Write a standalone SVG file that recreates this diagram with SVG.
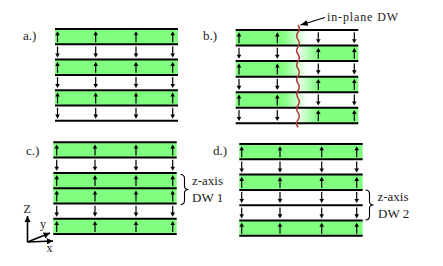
<svg xmlns="http://www.w3.org/2000/svg" xmlns:xlink="http://www.w3.org/1999/xlink" width="443" height="266" viewBox="0 0 443 266">
<style>
.g{fill:#80ff80}
.ln{stroke:#000;stroke-width:2}
.t{font-family:"Liberation Serif","Times New Roman",serif;font-size:13px;fill:#222}
.ts{font-family:"Liberation Serif","Times New Roman",serif;font-size:12px;fill:#222}
.ax{stroke:#000;stroke-width:1.6;fill:none}
</style>
<defs>
<g id="up"><line x1="0" y1="5.5" x2="0" y2="-2.5" stroke="#000" stroke-width="1.2"/><path d="M0,-5.5 L2.3,-1.4 L-2.3,-1.4 Z" fill="#000"/></g>
<g id="dn"><line x1="0" y1="-5.5" x2="0" y2="2.5" stroke="#000" stroke-width="1.2"/><path d="M0,5.5 L2.3,1.4 L-2.3,1.4 Z" fill="#000"/></g>
<linearGradient id="gl" gradientUnits="userSpaceOnUse" x1="283" y1="0" x2="307" y2="0"><stop offset="0" stop-color="#80ff80"/><stop offset="1" stop-color="#ffffff"/></linearGradient>
<linearGradient id="gr" gradientUnits="userSpaceOnUse" x1="295" y1="0" x2="318" y2="0"><stop offset="0" stop-color="#ffffff"/><stop offset="1" stop-color="#80ff80"/></linearGradient>
<marker id="ah" viewBox="0 0 10 10" refX="10" refY="5" markerWidth="6" markerHeight="6" orient="auto"><path d="M0,1 L10,5 L0,9 Z" fill="#000"/></marker>
<marker id="ah2" viewBox="0 0 10 10" refX="10" refY="5" markerWidth="4" markerHeight="4" orient="auto"><path d="M0,0 L10,5 L0,10 Z" fill="#000"/></marker>
</defs>

<g id="panel-a">
<rect class="g" x="55" y="29" width="123" height="15.3"/>
<rect class="g" x="55" y="59.6" width="123" height="15.3"/>
<rect class="g" x="55" y="90.2" width="123" height="15.3"/>
<g class="ln">
<line x1="55" y1="29" x2="178" y2="29"/><line x1="55" y1="44.3" x2="178" y2="44.3"/><line x1="55" y1="59.6" x2="178" y2="59.6"/><line x1="55" y1="74.9" x2="178" y2="74.9"/><line x1="55" y1="90.2" x2="178" y2="90.2"/><line x1="55" y1="105.5" x2="178" y2="105.5"/><line x1="55" y1="120.8" x2="178" y2="120.8"/>
</g>
<use xlink:href="#up" x="57.5" y="36.7"/><use xlink:href="#up" x="95.7" y="36.7"/><use xlink:href="#up" x="136" y="36.7"/><use xlink:href="#up" x="172.7" y="36.7"/>
<use xlink:href="#dn" x="57.5" y="52"/><use xlink:href="#dn" x="95.7" y="52"/><use xlink:href="#dn" x="136" y="52"/><use xlink:href="#dn" x="172.7" y="52"/>
<use xlink:href="#up" x="57.5" y="67.3"/><use xlink:href="#up" x="95.7" y="67.3"/><use xlink:href="#up" x="136" y="67.3"/><use xlink:href="#up" x="172.7" y="67.3"/>
<use xlink:href="#dn" x="57.5" y="82.6"/><use xlink:href="#dn" x="95.7" y="82.6"/><use xlink:href="#dn" x="136" y="82.6"/><use xlink:href="#dn" x="172.7" y="82.6"/>
<use xlink:href="#up" x="57.5" y="97.9"/><use xlink:href="#up" x="95.7" y="97.9"/><use xlink:href="#up" x="136" y="97.9"/><use xlink:href="#up" x="172.7" y="97.9"/>
<use xlink:href="#dn" x="57.5" y="113.2"/><use xlink:href="#dn" x="95.7" y="113.2"/><use xlink:href="#dn" x="136" y="113.2"/><use xlink:href="#dn" x="172.7" y="113.2"/>
<text class="t" x="23" y="40">a.)</text>
</g>

<g id="panel-b">
<rect fill="url(#gl)" x="235.7" y="30" width="122.6" height="15.55"/>
<rect fill="url(#gr)" x="235.7" y="45.55" width="122.6" height="15.55"/>
<rect fill="url(#gl)" x="235.7" y="61.1" width="122.6" height="15.55"/>
<rect fill="url(#gr)" x="235.7" y="76.65" width="122.6" height="15.55"/>
<rect fill="url(#gl)" x="235.7" y="92.2" width="122.6" height="15.55"/>
<rect fill="url(#gr)" x="235.7" y="107.75" width="122.6" height="15.55"/>
<g class="ln">
<line x1="235.7" y1="30" x2="358.3" y2="30"/><line x1="235.7" y1="45.55" x2="358.3" y2="45.55"/><line x1="235.7" y1="61.1" x2="358.3" y2="61.1"/><line x1="235.7" y1="76.65" x2="358.3" y2="76.65"/><line x1="235.7" y1="92.2" x2="358.3" y2="92.2"/><line x1="235.7" y1="107.75" x2="358.3" y2="107.75"/><line x1="235.7" y1="123.3" x2="358.3" y2="123.3"/>
</g>
<use xlink:href="#up" x="239" y="37.8"/><use xlink:href="#up" x="277.3" y="37.8"/><use xlink:href="#dn" x="318.3" y="37.8"/><use xlink:href="#dn" x="354.3" y="37.8"/>
<use xlink:href="#dn" x="239" y="53.3"/><use xlink:href="#dn" x="277.3" y="53.3"/><use xlink:href="#up" x="318.3" y="53.3"/><use xlink:href="#up" x="354.3" y="53.3"/>
<use xlink:href="#up" x="239" y="68.9"/><use xlink:href="#up" x="277.3" y="68.9"/><use xlink:href="#dn" x="318.3" y="68.9"/><use xlink:href="#dn" x="354.3" y="68.9"/>
<use xlink:href="#dn" x="239" y="84.4"/><use xlink:href="#dn" x="277.3" y="84.4"/><use xlink:href="#up" x="318.3" y="84.4"/><use xlink:href="#up" x="354.3" y="84.4"/>
<use xlink:href="#up" x="239" y="100"/><use xlink:href="#up" x="277.3" y="100"/><use xlink:href="#dn" x="318.3" y="100"/><use xlink:href="#dn" x="354.3" y="100"/>
<use xlink:href="#dn" x="239" y="115.5"/><use xlink:href="#dn" x="277.3" y="115.5"/><use xlink:href="#up" x="318.3" y="115.5"/><use xlink:href="#up" x="354.3" y="115.5"/>
<text class="t" x="203" y="40">b.)</text>
</g>

<g id="domain-wall">
<path d="M298,25 q2.6,3.65 0,7.3 t0,7.3 t0,7.3 t0,7.3 t0,7.3 t0,7.3 t0,7.3 t0,7.3 t0,7.3 t0,7.3 t0,7.3 t0,7.3 t0,7.3 t0,7.3" fill="none" stroke="#b03a3a" stroke-width="1.5"/>
<text class="ts" x="327" y="20.5" textLength="71">in-plane DW</text>
</g>

<g id="panel-c">
<rect class="g" x="53.3" y="142.3" width="123.4" height="15.3"/>
<rect class="g" x="53.3" y="172.9" width="123.4" height="30.6"/>
<rect class="g" x="53.3" y="218.8" width="123.4" height="15.3"/>
<g class="ln">
<line x1="53.3" y1="142.3" x2="176.7" y2="142.3"/><line x1="53.3" y1="157.6" x2="176.7" y2="157.6"/><line x1="53.3" y1="172.9" x2="176.7" y2="172.9"/><line x1="53.3" y1="188.2" x2="176.7" y2="188.2"/><line x1="53.3" y1="203.5" x2="176.7" y2="203.5"/><line x1="53.3" y1="218.8" x2="176.7" y2="218.8"/><line x1="53.3" y1="234.1" x2="176.7" y2="234.1"/>
</g>
<use xlink:href="#up" x="56.7" y="150"/><use xlink:href="#up" x="95" y="150"/><use xlink:href="#up" x="136" y="150"/><use xlink:href="#up" x="172.7" y="150"/>
<use xlink:href="#dn" x="56.7" y="165.3"/><use xlink:href="#dn" x="95" y="165.3"/><use xlink:href="#dn" x="136" y="165.3"/><use xlink:href="#dn" x="172.7" y="165.3"/>
<use xlink:href="#up" x="56.7" y="180.6"/><use xlink:href="#up" x="95" y="180.6"/><use xlink:href="#up" x="136" y="180.6"/><use xlink:href="#up" x="172.7" y="180.6"/>
<use xlink:href="#up" x="56.7" y="195.9"/><use xlink:href="#up" x="95" y="195.9"/><use xlink:href="#up" x="136" y="195.9"/><use xlink:href="#up" x="172.7" y="195.9"/>
<use xlink:href="#dn" x="56.7" y="211.2"/><use xlink:href="#dn" x="95" y="211.2"/><use xlink:href="#dn" x="136" y="211.2"/><use xlink:href="#dn" x="172.7" y="211.2"/>
<use xlink:href="#up" x="56.7" y="226.5"/><use xlink:href="#up" x="95" y="226.5"/><use xlink:href="#up" x="136" y="226.5"/><use xlink:href="#up" x="172.7" y="226.5"/>
<text class="t" x="26" y="155">c.)</text>
<path d="M180.5,174.5 q4,0 4,4 v7.5 q0,3.5 4,3.5 q-4,0 -4,3.5 v7.5 q0,4 -4,4" fill="none" stroke="#000" stroke-width="1.1"/>
<text class="t" x="192" y="185">z-axis</text>
<text class="t" x="192" y="201.5">DW 1</text>
</g>

<g id="panel-d">
<rect class="g" x="239.3" y="144" width="123.4" height="15.3"/>
<rect class="g" x="239.3" y="174.6" width="123.4" height="15.3"/>
<rect class="g" x="239.3" y="220.5" width="123.4" height="15.3"/>
<g class="ln">
<line x1="239.3" y1="144" x2="362.7" y2="144"/><line x1="239.3" y1="159.3" x2="362.7" y2="159.3"/><line x1="239.3" y1="174.6" x2="362.7" y2="174.6"/><line x1="239.3" y1="189.9" x2="362.7" y2="189.9"/><line x1="239.3" y1="205.2" x2="362.7" y2="205.2"/><line x1="239.3" y1="220.5" x2="362.7" y2="220.5"/><line x1="239.3" y1="235.8" x2="362.7" y2="235.8"/>
</g>
<use xlink:href="#up" x="241.7" y="151.7"/><use xlink:href="#up" x="280" y="151.7"/><use xlink:href="#up" x="321.7" y="151.7"/><use xlink:href="#up" x="356.7" y="151.7"/>
<use xlink:href="#dn" x="241.7" y="167"/><use xlink:href="#dn" x="280" y="167"/><use xlink:href="#dn" x="321.7" y="167"/><use xlink:href="#dn" x="356.7" y="167"/>
<use xlink:href="#up" x="241.7" y="182.3"/><use xlink:href="#up" x="280" y="182.3"/><use xlink:href="#up" x="321.7" y="182.3"/><use xlink:href="#up" x="356.7" y="182.3"/>
<use xlink:href="#dn" x="241.7" y="197.6"/><use xlink:href="#dn" x="280" y="197.6"/><use xlink:href="#dn" x="321.7" y="197.6"/><use xlink:href="#dn" x="356.7" y="197.6"/>
<use xlink:href="#dn" x="241.7" y="212.9"/><use xlink:href="#dn" x="280" y="212.9"/><use xlink:href="#dn" x="321.7" y="212.9"/><use xlink:href="#dn" x="356.7" y="212.9"/>
<use xlink:href="#up" x="241.7" y="228.2"/><use xlink:href="#up" x="280" y="228.2"/><use xlink:href="#up" x="321.7" y="228.2"/><use xlink:href="#up" x="356.7" y="228.2"/>
<text class="t" x="213" y="155">d.)</text>
<path d="M365.5,190 q4,0 4,4 v7.5 q0,3.5 4,3.5 q-4,0 -4,3.5 v7.5 q0,4 -4,4" fill="none" stroke="#000" stroke-width="1.1"/>
<text class="t" x="377.5" y="201">z-axis</text>
<text class="t" x="378" y="217.5">DW 2</text>
</g>

<g id="axes">
<line class="ax" x1="27.5" y1="242" x2="27.5" y2="216" marker-end="url(#ah2)"/>
<line class="ax" x1="27.5" y1="242" x2="53" y2="241" marker-end="url(#ah2)"/>
<line class="ax" x1="27.5" y1="242" x2="50" y2="233" marker-end="url(#ah2)"/>
<text class="ts" x="23.5" y="212.5">Z</text>
<text class="ts" x="40" y="228">y</text>
<text class="ts" x="46.5" y="252">x</text>
</g>

<g id="connectors">
<line x1="325" y1="17.5" x2="300.5" y2="25" stroke="#000" stroke-width="1.2" marker-end="url(#ah)"/>
</g>
</svg>
